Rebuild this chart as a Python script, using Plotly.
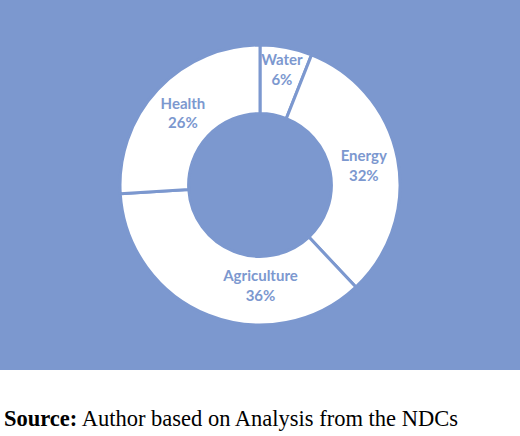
import plotly.graph_objects as go

labels = ["Water", "Energy", "Agriculture", "Health"]
shares = [6, 32, 36, 26]

blue = "#7c98cf"

fig = go.Figure()

fig.add_trace(go.Pie(
    labels=labels,
    values=shares,
    hole=0.51,
    sort=False,
    direction="clockwise",
    rotation=0,
    marker=dict(colors=["white"] * 4, line=dict(color=blue, width=3)),
    texttemplate="<b>%{label}</b><br><b>%{percent:.0%}</b>",
    textposition="inside",
    insidetextorientation="horizontal",
    textfont=dict(family="Lato", size=15, color=blue),
    domain=dict(x=[120 / 520, 400 / 520], y=[1 - 325 / 436, 1 - 45 / 436]),
    showlegend=False,
))

fig.update_layout(
    width=520,
    height=436,
    margin=dict(t=0, l=0, r=0, b=0),
    paper_bgcolor="white",
    uniformtext=dict(minsize=15, mode="show"),
    shapes=[dict(type="rect", xref="paper", yref="paper",
                 x0=0, x1=1, y0=1 - 370 / 436, y1=1,
                 fillcolor=blue, line=dict(width=0), layer="below")],
    annotations=[dict(
        text="<b>Source:</b> Author based on Analysis from the NDCs",
        xref="paper", yref="paper", x=2 / 520, y=1 - 418 / 436,
        xanchor="left", yanchor="middle", showarrow=False,
        font=dict(family="Liberation Serif", size=22.5, color="black"),
    )],
)

# drop the default page margin so the chart sits flush in the window
fig.write_html("out.html", config={"displayModeBar": False},
               post_script="document.body.style.margin='0';")
